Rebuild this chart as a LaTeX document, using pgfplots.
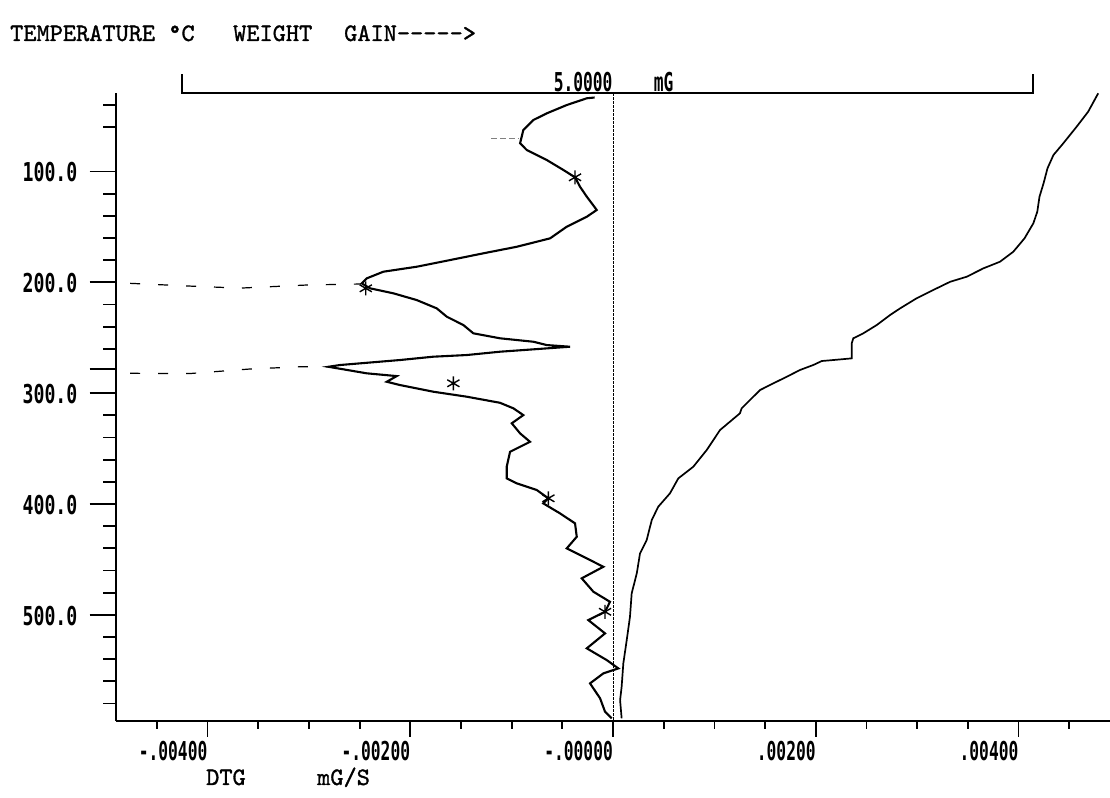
\documentclass[border=0pt]{standalone}
\usepackage{fontspec}
\usepackage{graphicx}
\usepackage{pgfplots}
\pgfplotsset{compat=1.18}
\usetikzlibrary{calc}

\newfontfamily\tickfont{DejaVu Sans Mono}
\newfontfamily\hdfont{lmmono10-regular.otf}[FakeBold=1.3]
% narrow bold printer digits
\newcommand\tk[1]{\scalebox{0.625}[1]{\tickfont\bfseries\fontsize{26bp}{26bp}\selectfont #1}}
\newcommand\tky[1]{\scalebox{0.7}[1]{\tickfont\bfseries\fontsize{26bp}{26bp}\selectfont #1}}
\newcommand\hd{\hdfont\fontsize{25.1bp}{29bp}\selectfont}

\begin{document}
\begin{tikzpicture}[x=1bp,y=1bp]

% DTG, mG/s, with the x axis
\begin{axis}[
  scale only axis, width=993.5bp, height=627.4bp,
  xmin=-0.0049, xmax=0.0049, ymin=29.4, ymax=595.6, y dir=reverse,
  axis x line=bottom, axis y line=none,
  axis line style={-, line width=2.2bp},
  ytick=\empty,
  xtick={-0.004,-0.002,0,0.002,0.004},
  xticklabels={\tk{-.00400},\tk{-.00200},\tk{-.00000},\tk{.00200},\tk{.00400}},
  minor xtick={-0.0045,-0.0035,-0.003,-0.0025,-0.0015,-0.001,-0.0005,0.0005,0.001,0.0015,0.0025,0.003,0.0035,0.0045},
  scaled x ticks=false,
  tick align=outside, major tick length=16bp, minor tick length=8bp,
  tick style={black, line width=1.8bp},
  xticklabel style={anchor=north east, inner sep=0pt, yshift=-4bp},
  clip=false,
]
\coordinate (TL) at (axis cs:-0.0049,29.4);

% zero line
\addplot[black, line width=0.9bp, dash pattern=on 2.5bp off 1.5bp] coordinates {(0,29.4) (0,595.6)};

% peak extension lines
\addplot[black, line width=1.2bp, dash pattern=on 10bp off 18bp] coordinates {
  (-0.004764,200.9) (-0.004143,203.5) (-0.003679,205.2) (-0.003019,202.4) (-0.002486,201.5)};
\addplot[black, line width=1.2bp, dash pattern=on 10bp off 18bp] coordinates {
  (-0.004764,282.1) (-0.004173,282.3) (-0.003581,278.2) (-0.003088,276.2) (-0.002811,276.2)};
\addplot[gray, line width=1bp, dash pattern=on 6bp off 3bp] coordinates {(-0.00120,70.4) (-0.00093,70.4)};

% DTG curve
\addplot[black, line width=2.1bp] coordinates {
(-0.000182,33.2) (-0.000259,33.9) (-0.000457,40.0) (-0.000654,47.5) (-0.000786,53.5)
(-0.000885,62.5) (-0.000917,74.5) (-0.000851,80.6) (-0.000654,89.6) (-0.000490,98.6)
(-0.000375,105.2) (-0.000326,113.7) (-0.000259,122.7) (-0.000161,134.7) (-0.000259,140.8)
(-0.000457,149.8) (-0.000621,160.3) (-0.000950,167.9) (-0.001279,173.8) (-0.001608,179.9)
(-0.001936,185.9) (-0.002266,190.4) (-0.002430,196.4) (-0.002479,200.9) (-0.002397,205.4)
(-0.002167,209.9) (-0.001936,216.0) (-0.001739,223.5) (-0.001640,231.0) (-0.001477,238.5)
(-0.001378,246.0) (-0.001115,250.5) (-0.000786,253.6) (-0.000654,256.6) (-0.000424,258.1)
(-0.000654,259.6) (-0.001115,262.6) (-0.001443,265.6) (-0.001773,267.1) (-0.002101,270.1)
(-0.002430,272.6) (-0.002693,274.6) (-0.002808,276.2) (-0.002660,278.5) (-0.002430,282.1)
(-0.002134,284.6) (-0.002232,289.7) (-0.002101,292.7) (-0.001773,298.7) (-0.001443,303.2)
(-0.001115,308.7) (-0.000983,313.7) (-0.000885,319.8) (-0.000999,327.2) (-0.000917,336.3)
(-0.000819,343.9) (-0.001016,352.9) (-0.001049,366.4) (-0.001049,376.9) (-0.000950,381.4)
(-0.000753,387.4) (-0.000638,394.9) (-0.000688,399.5) (-0.000523,408.5) (-0.000375,417.5)
(-0.000358,429.6) (-0.000457,440.1) (-0.000259,449.1) (-0.000096,456.7) (-0.000309,467.1)
(-0.000194,479.2) (-0.000030,488.3) (-0.000079,497.3) (-0.000244,504.8) (-0.000079,516.8)
(-0.000259,530.3) (-0.000062,540.9) (0.000052,548.4) (-0.000096,552.9) (-0.000227,561.9)
(-0.000128,575.4) (-0.000079,587.5) (-0.000013,593.5)};

% temperature marks on the DTG curve
\addplot[only marks, mark=asterisk, mark size=7bp, mark options={black, line width=1.4bp}] coordinates {
(-0.000375,105.2) (-0.002439,205.4) (-0.001575,291.1) (-0.000638,394.9) (-0.000079,497.3)};
\end{axis}

% TG, mG, with the temperature axis
\begin{axis}[
  scale only axis, width=993.5bp, height=627.4bp,
  xmin=-0.3860, xmax=5.4512, ymin=29.4, ymax=595.6, y dir=reverse,
  axis y line=left, axis x line=none,
  axis line style={-, line width=2.2bp},
  xtick=\empty,
  ytick={100,200,300,400,500},
  yticklabels={\tky{100.0},\tky{200.0},\tky{300.0},\tky{400.0},\tky{500.0}},
  extra y ticks={278}, extra y tick labels={},
  minor ytick={40,60,120,140,160,180,220,240,260,320,340,360,380,420,440,460,480,520,540,560,580},
  tick align=outside, major tick length=26.7bp, minor tick length=13bp,
  tick style={black, line width=1.8bp},
  yticklabel style={anchor=east, inner sep=0pt, xshift=-12bp, yshift=-1bp},
  clip=false,
]
% 5 mG full-scale bracket
\draw[black, line width=1.6bp] (axis cs:0,12.0) -- (axis cs:0,29.4) -- (axis cs:5,29.4) -- (axis cs:5,12.0);
\node[anchor=base west, inner sep=0pt] at (axis cs:2.183,28.0) {\tk{5.0000}};
\node[anchor=base west, inner sep=0pt] at (axis cs:2.771,28.0) {\tk{mG}};

% TG curve
\addplot[black, line width=1.7bp] coordinates {
(5.383,29.4) (5.324,46.0) (5.256,59.6) (5.178,74.5) (5.120,85.1) (5.085,97.1)
(5.062,110.6) (5.038,122.7) (5.025,136.3) (5.002,146.7) (4.950,160.3) (4.884,172.4)
(4.806,181.4) (4.708,187.4) (4.611,194.9) (4.513,199.5) (4.414,206.9) (4.316,214.4)
(4.219,223.5) (4.160,229.5) (4.082,238.5) (4.003,246.0) (3.944,250.5) (3.935,255.0)
(3.935,268.6) (3.827,270.1) (3.759,271.0) (3.709,274.6) (3.631,279.1) (3.553,285.2)
(3.475,291.1) (3.396,297.2) (3.347,304.7) (3.288,313.7) (3.278,318.2) (3.161,333.3)
(3.083,351.3) (3.004,366.4) (2.916,376.9) (2.867,390.4) (2.798,402.5) (2.760,414.5)
(2.730,432.6) (2.691,444.6) (2.672,462.6) (2.642,480.7) (2.632,501.8) (2.613,522.8)
(2.593,543.8) (2.583,565.0) (2.574,577.0) (2.583,593.5)};
\end{axis}

% page = 1110 x 798 around the axis box
\coordinate (O) at ($(TL)+(-116.3,93.3)$);
\node[anchor=base west, inner sep=0pt, font=\hd] at ($(O)+(10,-41)$) {TEMPERATURE °C};
\node[anchor=base west, inner sep=0pt, font=\hd] at ($(O)+(233,-41)$) {WEIGHT};
\node[anchor=base west, inner sep=0pt, font=\hd] at ($(O)+(344,-41)$) {GAIN-{}-{}-{}-{}->};
\node[anchor=base west, inner sep=0pt, font=\hd] at ($(O)+(206,-785)$) {DTG};
\node[anchor=base west, inner sep=0pt, font=\hd] at ($(O)+(317,-785)$) {mG/S};

\pgfresetboundingbox
\path[use as bounding box] (O) rectangle ($(O)+(1110,-798)$);
\end{tikzpicture}
\end{document}
